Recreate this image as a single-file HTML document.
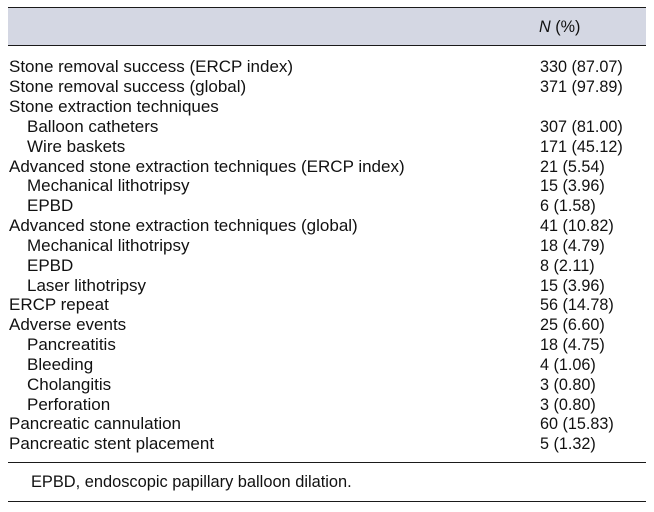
<!DOCTYPE html>
<html>
<head>
<meta charset="utf-8">
<style>
  html, body { margin:0; padding:0; background:#fff; }
  body { width:654px; height:512px; position:relative; overflow:hidden;
         font-family:"Liberation Sans", Arial, sans-serif; color:#111; }
  .band { position:absolute; left:8px; top:7px; width:638px; height:39px; background:#d4d7e3; }
  .hl { position:absolute; left:8px; width:638px; height:1.3px; background:#1a1a1a; }
  .r { position:absolute; left:0; width:654px; height:20px; line-height:20px; font-size:17px; white-space:nowrap; }
  .r .l { position:absolute; left:9px; }
  .r .l.i { left:27px; }
  .r .v { position:absolute; left:540px; font-size:16.2px; }
  .hdr { position:absolute; left:539px; top:17px; line-height:20px; font-size:16.2px; }
  .fn { position:absolute; left:31px; top:472px; line-height:20px; font-size:16.4px; white-space:nowrap; }
</style>
</head>
<body>
<div class="band"></div>
<div class="hl" style="top:7px"></div>
<div class="hl" style="top:45px"></div>
<div class="hdr"><i>N</i> (%)</div>

<div class="r" style="top:57.4px"><span class="l">Stone removal success (ERCP index)</span><span class="v">330 (87.07)</span></div>
<div class="r" style="top:77.2px"><span class="l">Stone removal success (global)</span><span class="v">371 (97.89)</span></div>
<div class="r" style="top:97.1px"><span class="l">Stone extraction techniques</span></div>
<div class="r" style="top:116.9px"><span class="l i">Balloon catheters</span><span class="v">307 (81.00)</span></div>
<div class="r" style="top:136.7px"><span class="l i">Wire baskets</span><span class="v">171 (45.12)</span></div>
<div class="r" style="top:156.6px"><span class="l">Advanced stone extraction techniques (ERCP index)</span><span class="v">21 (5.54)</span></div>
<div class="r" style="top:176.4px"><span class="l i">Mechanical lithotripsy</span><span class="v">15 (3.96)</span></div>
<div class="r" style="top:196.2px"><span class="l i">EPBD</span><span class="v">6 (1.58)</span></div>
<div class="r" style="top:216.0px"><span class="l">Advanced stone extraction techniques (global)</span><span class="v">41 (10.82)</span></div>
<div class="r" style="top:235.9px"><span class="l i">Mechanical lithotripsy</span><span class="v">18 (4.79)</span></div>
<div class="r" style="top:255.7px"><span class="l i">EPBD</span><span class="v">8 (2.11)</span></div>
<div class="r" style="top:275.5px"><span class="l i">Laser lithotripsy</span><span class="v">15 (3.96)</span></div>
<div class="r" style="top:295.4px"><span class="l">ERCP repeat</span><span class="v">56 (14.78)</span></div>
<div class="r" style="top:315.2px"><span class="l">Adverse events</span><span class="v">25 (6.60)</span></div>
<div class="r" style="top:335.0px"><span class="l i">Pancreatitis</span><span class="v">18 (4.75)</span></div>
<div class="r" style="top:354.8px"><span class="l i">Bleeding</span><span class="v">4 (1.06)</span></div>
<div class="r" style="top:374.7px"><span class="l i">Cholangitis</span><span class="v">3 (0.80)</span></div>
<div class="r" style="top:394.5px"><span class="l i">Perforation</span><span class="v">3 (0.80)</span></div>
<div class="r" style="top:414.3px"><span class="l">Pancreatic cannulation</span><span class="v">60 (15.83)</span></div>
<div class="r" style="top:434.2px"><span class="l">Pancreatic stent placement</span><span class="v">5 (1.32)</span></div>

<div class="hl" style="top:462px"></div>
<div class="fn">EPBD, endoscopic papillary balloon dilation.</div>
<div class="hl" style="top:500.5px"></div>
</body>
</html>
